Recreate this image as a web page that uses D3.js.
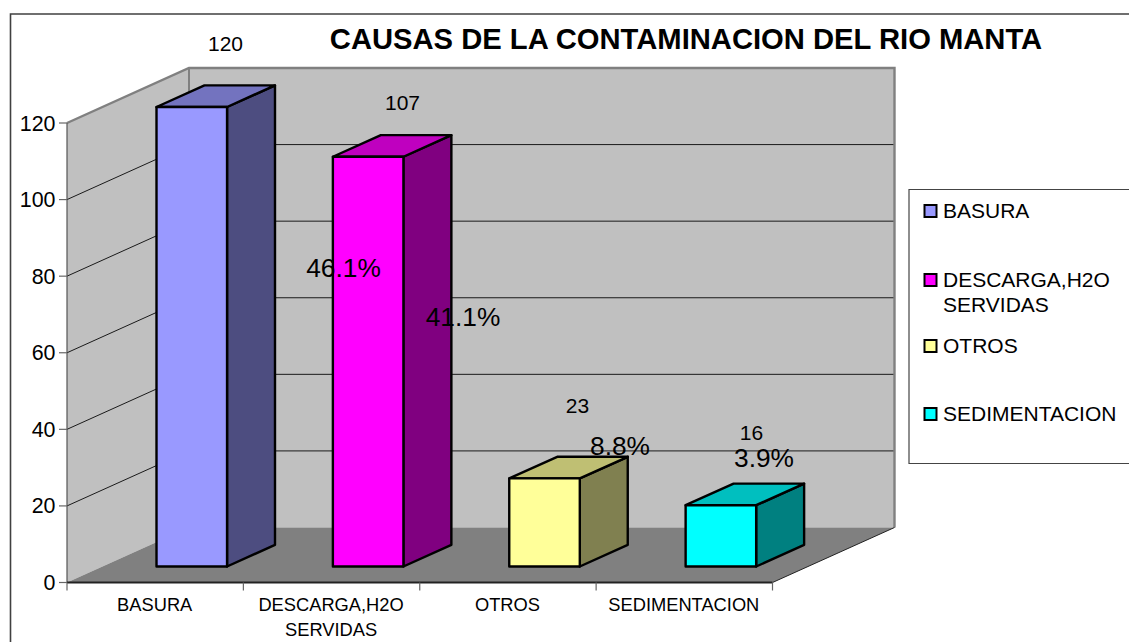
<!DOCTYPE html>
<html><head><meta charset="utf-8">
<script src="https://cdnjs.cloudflare.com/ajax/libs/d3/7.8.5/d3.min.js"></script>
<style>html,body{margin:0;padding:0;background:#fff}svg{display:block}text{font-family:"Liberation Sans",Arial,sans-serif;fill:#000}</style>
</head><body><div id="c"></div>
<script>
const titleText = "CAUSAS DE LA CONTAMINACION DEL RIO MANTA";
const categories = ["BASURA","DESCARGA,H2O SERVIDAS","OTROS","SEDIMENTACION"];
const values = [120,107,23,16];
const percents = ["46.1%","41.1%","8.8%","3.9%"];
const yTicks = [0,20,40,60,80,100,120];
const frontColors = ["#9999ff","#ff00ff","#ffff99","#00ffff"];
const sideColors = ["#4d4d80","#800080","#808050","#008080"];
const topColors = ["#7373bf","#bf00bf","#bfbf73","#00bfbf"];

const W=1129,H=642;
const svg=d3.select("#c").append("svg").attr("width",W).attr("height",H);
const x=d3.scaleBand().domain(categories).range([67,772.5]).paddingInner(0.6).paddingOuter(0.3);
const y=d3.scaleLinear().domain([0,120]).range([582.5,123]);
const depthX=d3.scaleLinear().domain([0,1]).range([0,122]);
const depthY=d3.scaleLinear().domain([0,1]).range([0,-55]);
const P=(px,v,d)=>[px+depthX(d),y(v)+depthY(d)];
const poly=pts=>"M"+pts.map(p=>p.join(",")).join("L")+"Z";
const x0=x.range()[0],x1=x.range()[1];

// frame
svg.append("path").attr("d",`M10.5,642V14H1129`).attr("fill","none").attr("stroke","#404040").attr("stroke-width",1.6);

// walls and floor
svg.append("path").attr("d",poly([P(x0,0,0),P(x0,120,0),P(x0,120,1),P(x0,0,1)])).attr("fill","#c0c0c0");
svg.append("path").attr("d",poly([P(x0,0,1),P(x0,120,1),P(x1,120,1),P(x1,0,1)])).attr("fill","#c0c0c0");
svg.append("path").attr("d",poly([P(x0,0,0),P(x0,0,1),P(x1,0,1),P(x1,0,0)])).attr("fill","#808080");

// gridlines
yTicks.filter(t=>t>0&&t<120).forEach(t=>{
  svg.append("path").attr("d","M"+P(x0,t,0)+"L"+P(x0,t,1)+"L"+P(x1,t,1)).attr("fill","none").attr("stroke","#1a1a1a").attr("stroke-width",1);
});
// wall outlines
svg.append("path").attr("d","M"+P(x0,120,0)+"L"+P(x0,120,1)+"L"+P(x1,120,1)+"L"+P(x1,0,1)).attr("fill","none").attr("stroke","#808080").attr("stroke-width",2.4);
svg.append("path").attr("d","M"+P(x0,120,1)+"L"+P(x0,0,1)).attr("fill","none").attr("stroke","#808080").attr("stroke-width",2);
svg.append("path").attr("d","M"+P(x1,0,0)+"L"+P(x1,0,1)).attr("fill","none").attr("stroke","#222").attr("stroke-width",1);

// value axis
svg.append("path").attr("d",`M${x0},${y(0)}V${y(120)}`).attr("stroke","#555").attr("stroke-width",1.2).attr("fill","none");
yTicks.forEach(t=>{
  svg.append("line").attr("x1",x0-8).attr("x2",x0).attr("y1",y(t)).attr("y2",y(t)).attr("stroke","#666").attr("stroke-width",1.2);
  svg.append("text").attr("x",x0-11.5).attr("y",y(t)+7.5).attr("text-anchor","end").attr("font-size",21.4).text(t);
});

// category axis
svg.append("line").attr("x1",x0).attr("x2",x1).attr("y1",y(0)).attr("y2",y(0)).attr("stroke","#222").attr("stroke-width",2);
const step=x.step();
d3.range(5).forEach(i=>{
  const tx=x0+i*step;
  svg.append("line").attr("x1",tx).attr("x2",tx).attr("y1",y(0)).attr("y2",y(0)+8).attr("stroke","#666").attr("stroke-width",1.2);
});
categories.forEach((c,i)=>{
  const cx=x0+(i+.5)*step-0.5;
  const parts=c.includes(" ")?c.split(" "):[c];
  parts.forEach((s,j)=>svg.append("text").attr("x",cx).attr("y",611+j*25).attr("text-anchor","middle").attr("font-size",18.3).text(s));
});

// bars
const dF=0.304,dB=0.697;
categories.forEach((c,i)=>{
  const l=x(c),r=l+x.bandwidth(),v=values[i];
  const g=svg.append("g").attr("transform","translate(-0.5,0.7)").attr("stroke","#000").attr("stroke-width",2.4).attr("stroke-linejoin","round");
  g.append("path").attr("d",poly([P(r,0,dF),P(r,0,dB),P(r,v,dB),P(r,v,dF)])).attr("fill",sideColors[i]);
  g.append("path").attr("d",poly([P(l,v,dF),P(l,v,dB),P(r,v,dB),P(r,v,dF)])).attr("fill",topColors[i]);
  g.append("path").attr("d",poly([P(l,0,dF),P(l,v,dF),P(r,v,dF),P(r,0,dF)])).attr("fill",frontColors[i]);
});

// value and percent labels
const pctPos=[[343.5,277],[463,325.5],[620,455],[764,467]];
const valuePos=[[225.5,51],[402.5,110],[577.5,412.5],[751.5,439.5]];
values.forEach((v,i)=>{
  svg.append("text").attr("x",valuePos[i][0]).attr("y",valuePos[i][1]).attr("text-anchor","middle").attr("font-size",21).text(v);
  svg.append("text").attr("x",pctPos[i][0]).attr("y",pctPos[i][1]).attr("text-anchor","middle").attr("font-size",26.3).text(percents[i]);
});

// title
svg.append("text").attr("x",686).attr("y",49).attr("text-anchor","middle").attr("font-size",29.2).attr("font-weight","bold").text(titleText);

// legend
svg.append("path").attr("d","M1129,189.5H909V463.5H1129").attr("fill","#fff").attr("stroke","#444").attr("stroke-width",1.2);
const legendY=[211,280,346,414];
categories.forEach((c,i)=>{
  svg.append("rect").attr("x",924.5).attr("y",legendY[i]-6).attr("width",12).attr("height",12).attr("fill",frontColors[i]).attr("stroke","#000").attr("stroke-width",2);
  const parts=c.includes(" ")?c.split(" "):[c];
  parts.forEach((s,j)=>svg.append("text").attr("x",943).attr("y",legendY[i]+7+j*25).attr("font-size",21).text(s));
});
</script></body></html>
